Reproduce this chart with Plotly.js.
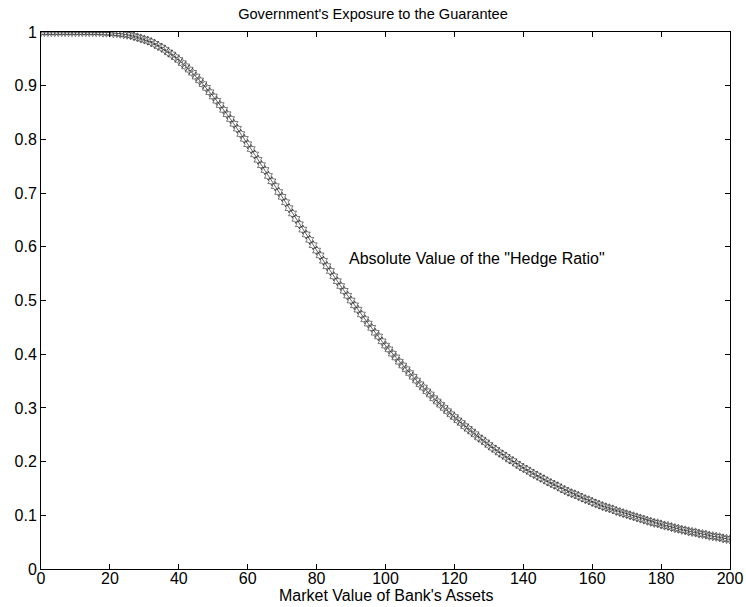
<!DOCTYPE html>
<html>
<head>
<meta charset="utf-8">
<script src="https://cdn.plot.ly/plotly-3.0.1.min.js"></script>
<style>html,body{margin:0;padding:0;background:#fff;}#chart{width:746px;height:607px;}</style>
</head>
<body>
<div id="chart"></div>
<script>
// Market value of bank's assets (x)
var assetValues = [];
for (var i = 0; i <= 200; i++) assetValues.push(i);

// Absolute value of the hedge ratio
var hedgeRatio = [
1.000,1.000,1.000,1.000,1.000,1.000,1.000,1.000,1.000,1.000,
1.000,1.000,1.000,1.000,1.000,1.000,1.000,1.000,0.999,0.999,
0.999,0.998,0.998,0.997,0.996,0.995,0.994,0.992,0.990,0.988,
0.986,0.984,0.981,0.978,0.974,0.971,0.967,0.962,0.958,0.953,
0.948,0.942,0.936,0.930,0.924,0.917,0.910,0.903,0.896,0.888,
0.880,0.872,0.864,0.855,0.847,0.838,0.829,0.820,0.810,0.801,
0.791,0.782,0.772,0.762,0.752,0.743,0.732,0.722,0.713,0.702,
0.693,0.683,0.672,0.662,0.652,0.642,0.632,0.623,0.613,0.603,
0.593,0.584,0.574,0.564,0.555,0.545,0.536,0.527,0.518,0.509,
0.500,0.491,0.483,0.474,0.465,0.457,0.449,0.440,0.433,0.424,
0.416,0.409,0.401,0.394,0.386,0.379,0.372,0.365,0.358,0.351,
0.344,0.338,0.331,0.325,0.318,0.312,0.306,0.300,0.294,0.288,
0.283,0.277,0.272,0.266,0.261,0.256,0.251,0.245,0.241,0.236,
0.231,0.226,0.222,0.217,0.213,0.209,0.204,0.201,0.196,0.192,
0.188,0.185,0.181,0.177,0.174,0.170,0.167,0.163,0.160,0.157,
0.154,0.150,0.147,0.144,0.141,0.139,0.136,0.133,0.130,0.128,
0.125,0.122,0.120,0.117,0.115,0.113,0.111,0.108,0.106,0.104,
0.102,0.100,0.098,0.096,0.094,0.092,0.090,0.088,0.086,0.085,
0.083,0.081,0.080,0.078,0.076,0.075,0.073,0.072,0.070,0.069,
0.068,0.066,0.065,0.064,0.062,0.061,0.060,0.059,0.057,0.056,
0.055
];

var xTicks = [0,20,40,60,80,100,120,140,160,180,200];
var yTicks = [0,0.1,0.2,0.3,0.4,0.5,0.6,0.7,0.8,0.9,1];
var yTickLabels = ['0','0.1','0.2','0.3','0.4','0.5','0.6','0.7','0.8','0.9','1'];

var chartTitle = "Government's Exposure to the Guarantee";
var xTitle = "Market Value of Bank's Assets";
var curveLabel = 'Absolute Value of the "Hedge Ratio"';

var trace = {
  x: assetValues,
  y: hedgeRatio,
  type: 'scatter',
  mode: 'lines+markers',
  line: {color: '#000', width: 0.6},
  marker: {symbol: 'hexagram-open', size: 7, color: '#222', line: {color: '#222', width: 0.6}},
  hoverinfo: 'none',
  showlegend: false
};

var fam = 'Arial, "Liberation Sans", sans-serif';

var layout = {
  width: 746, height: 607,
  margin: {l: 41, r: 16, t: 32, b: 38, pad: 0},
  paper_bgcolor: '#fff', plot_bgcolor: '#fff',
  font: {family: fam, color: '#000', size: 16},
  title: {text: chartTitle, font: {family: fam, size: 14.6, color: '#000'}, x: 0.5, xanchor: 'center', y: 0.985, yanchor: 'top', yref: 'container'},
  xaxis: {
    range: [0, 200], tickvals: xTicks, ticktext: xTicks.map(String),
    showgrid: false, zeroline: false, showline: true, linecolor: '#000', linewidth: 1, mirror: 'allticks',
    ticks: 'inside', ticklen: 5, tickcolor: '#000', tickwidth: 1,
    ticklabelstandoff: -5,
    tickfont: {family: fam, size: 16, color: '#000'}
  },
  yaxis: {
    range: [0, 1], tickvals: yTicks, ticktext: yTickLabels,
    showgrid: false, zeroline: false, showline: true, linecolor: '#000', linewidth: 1, mirror: 'allticks',
    ticks: 'inside', ticklen: 5, tickcolor: '#000', tickwidth: 1,
    tickfont: {family: fam, size: 16, color: '#000'}
  },
  annotations: [{
    x: 88.8, y: 0.579, xref: 'x', yref: 'y', text: curveLabel, showarrow: false,
    xanchor: 'left', yanchor: 'middle', font: {family: fam, size: 16, color: '#000'}
  }, {
    x: 0.5, y: 0, xref: 'paper', yref: 'paper', text: xTitle, showarrow: false,
    xanchor: 'center', yanchor: 'middle', yshift: -26, font: {family: fam, size: 16, color: '#000'}
  }]
};

Plotly.newPlot('chart', [trace], layout, {displayModeBar: false, staticPlot: true});
</script>
</body>
</html>
